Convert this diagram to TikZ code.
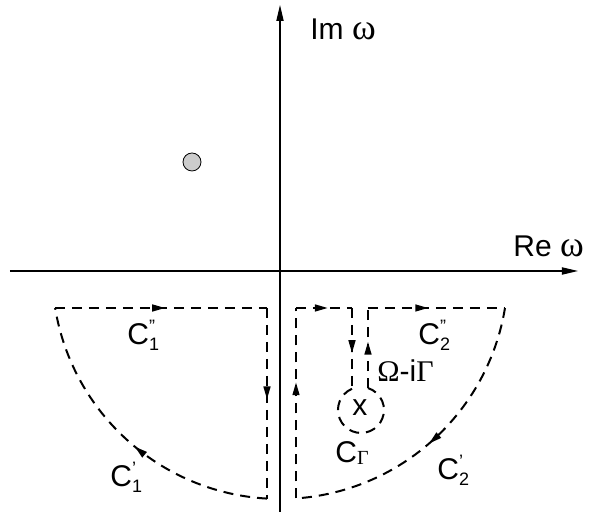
\documentclass[tikz,border=0pt]{standalone}
\usepackage{fontspec}
\setmainfont{Liberation Sans}
\newfontfamily\grk{Liberation Serif}
\usepackage{tikz}
\usetikzlibrary{arrows.meta,decorations.markings}
\newcommand{\Clab}[2]{C\rlap{\raisebox{6pt}{\fontsize{9}{10}\selectfont #1}}\raisebox{-3pt}{\fontsize{9}{10}\selectfont #2}}

\begin{document}
\begin{tikzpicture}[
    x=0.5pt,y=0.5pt,
    axis/.style={-{Triangle[length=8pt,width=3.6pt]},line width=0.6pt},
    contour/.style={dash pattern=on 5pt off 3.5pt,line width=1pt},
    midarr/.style={postaction={decorate},decoration={markings,
        mark=at position #1 with {\arrow{Triangle[length=6.5pt,width=3.4pt]}}}},
    lab/.style={font=\fontsize{15}{18}\selectfont,inner sep=0pt,anchor=base west}
  ]
    \useasboundingbox (-280,-241) rectangle (310,271);
    \coordinate (O) at (0,0);
    \coordinate (xl) at (-270,0);
    \coordinate (xr) at (298,0);
    \coordinate (yb) at (0,-241);
    \coordinate (yt) at (0,266);
    \draw[axis] (xl) -- (xr);
    \draw[axis] (yb) -- (yt);
    \node[lab] (im) at (30,231) {Im {\grk\fontsize{18}{18}\selectfont ω}};
    \node[lab] (re) at (233,14) {Re {\grk\fontsize{18}{18}\selectfont ω}};
    \node[circle,draw,fill=gray!40,minimum size=9pt,inner sep=0pt,line width=0.4pt] (pole) at (-88,109) {};

    \coordinate (L1) at (-225,-37);
    \coordinate (L2) at (-13,-37);
    \coordinate (L3) at (-13,-227.6);
    \draw[contour,midarr=0.52] (L1) -- (L2);
    \draw[contour,midarr=0.48] (L2) -- (L3);
    \draw[contour,midarr=0.47] (L3) arc[start angle=266.7,end angle=189.34,radius=228];

    \coordinate (R1) at (16,-227.4);
    \coordinate (R2) at (16,-37);
    \coordinate (R3) at (72,-37);
    \coordinate (R4) at (72,-117.8);
    \coordinate (R5) at (88,-117.1);
    \coordinate (R6) at (88,-37);
    \coordinate (R7) at (225,-37);
    \draw[contour,midarr=0.61] (R1) -- (R2);
    \draw[contour,midarr=0.57] (R2) -- (R3);
    \draw[contour,midarr=0.56] (R3) -- (R4);
    \draw[contour] (R4) arc[start angle=113,end angle=432.3,radius=23];
    \draw[contour,midarr=0.58] (R5) -- (R6);
    \draw[contour,midarr=0.44] (R6) -- (R7);
    \draw[contour,midarr=0.52] (R7) arc[start angle=350.66,end angle=274,radius=228];

    \node[lab] (c1a) at (-153,-74) {\Clab{''}{1}};
    \node[lab] (c1b) at (-170,-216) {\Clab{'}{1}};
    \node[lab] (c2a) at (138,-74) {\Clab{''}{2}};
    \node[lab] (c2b) at (157,-209) {\Clab{'}{2}};
    \node[lab] (cg) at (55,-192) {C\raisebox{-1pt}{\grk\fontsize{10}{10}\selectfont Γ}};
    \node[lab] (om) at (97,-111) {{\grk Ω}-i{\grk Γ}};
    \node[lab,anchor=center] (x) at (80,-137) {x};
\end{tikzpicture}
\end{document}
